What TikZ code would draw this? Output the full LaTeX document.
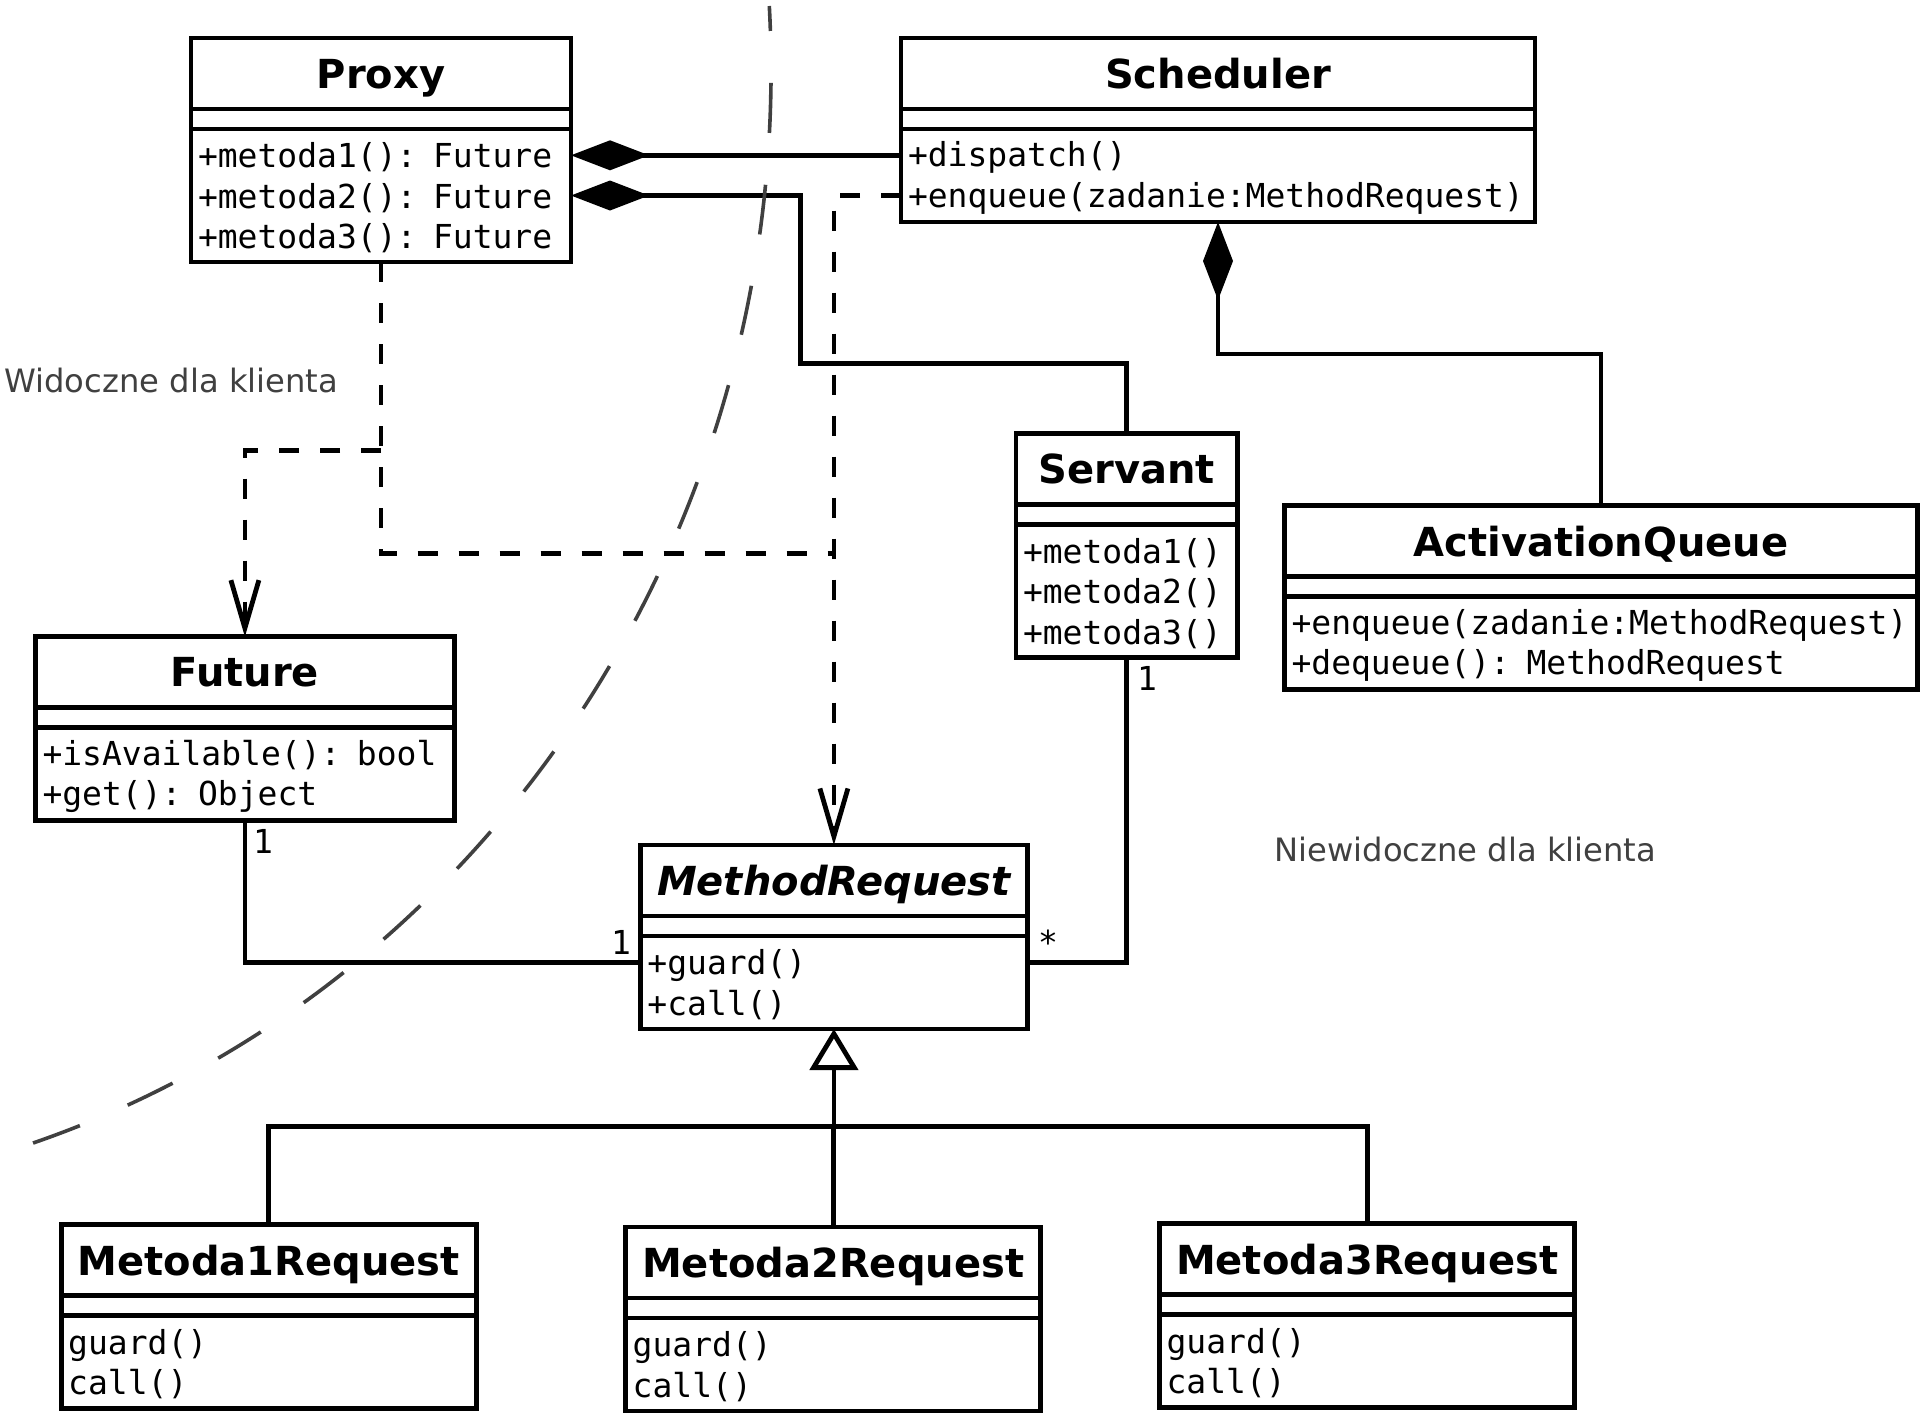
\documentclass[tikz,border=0pt]{standalone}
\usepackage{fontspec}
\setmainfont{DejaVu Sans}
\setmonofont{DejaVu Sans Mono}
\usetikzlibrary{arrows.meta,calc}
\definecolor{hintgray}{HTML}{404040}

\begin{document}
\begin{tikzpicture}[x=0.5pt,y=-0.5pt,line width=2.4pt,
  clsbox/.style={draw,anchor=north west,inner xsep=3.5pt,inner ysep=0pt,outer sep=0pt},
  clshead/.style={clsbox,minimum height=35.5pt,text depth=0pt,font=\fontsize{20}{24}\selectfont\bfseries},
  clsattr/.style={clsbox,minimum height=10pt},
  clsops/.style={clsbox,align=left,text height=14.8pt,font=\fontsize{16.5}{20.2}\selectfont\ttfamily},
  multlabel/.style={inner sep=0pt,font=\fontsize{16.5}{20.2}\selectfont\ttfamily},
  hintlabel/.style={inner sep=0pt,anchor=west,text=hintgray,font=\fontsize{16.1}{19}\selectfont},
  compos/.style={-{Diamond[length=39pt,width=15pt]}},
  depend/.style={dash pattern=on 10pt off 10.5pt},
  dependarrow/.style={depend,-{Straight Barb[length=24pt,width=14pt]}},
  inherit/.style={-{Triangle[open,length=20.5pt,width=24pt]}},
  zoneline/.style={draw=hintgray,line width=1.8pt,dash pattern=on 25pt off 26pt,dash phase=12.5pt}]
\useasboundingbox (0,0) rectangle (1920,1415);

\node[clshead,minimum width=190pt] (proxy) at (191,38) {Proxy};
\node[clsattr,minimum width=190pt] (proxya) at (proxy.south west) {};
\node[clsops,text width=183pt,minimum height=66.5pt] (proxym) at (proxya.south west) {+metoda1(): Future\\+metoda2(): Future\\+metoda3(): Future};

\node[clshead,minimum width=317pt] (sched) at (901,38) {Scheduler};
\node[clsattr,minimum width=317pt] (scheda) at (sched.south west) {};
\node[clsops,text width=310pt,minimum height=46.5pt] (schedm) at (scheda.south west) {+dispatch()\\+enqueue(zadanie:MethodRequest)};

\node[clshead,minimum width=110.8pt] (serv) at (1016,433.5) {Servant};
\node[clsattr,minimum width=110.8pt] (serva) at (serv.south west) {};
\node[clsops,text width=103.8pt,minimum height=66.5pt] (servm) at (serva.south west) {+metoda1()\\+metoda2()\\+metoda3()};

\node[clshead,minimum width=316.5pt] (queue) at (1284.5,505.7) {ActivationQueue};
\node[clsattr,minimum width=316.5pt] (queuea) at (queue.south west) {};
\node[clsops,text width=309.5pt,minimum height=46.5pt] (queuem) at (queuea.south west) {+enqueue(zadanie:MethodRequest)\\+dequeue(): MethodRequest};

\node[clshead,minimum width=209.4pt] (fut) at (35.5,636.7) {Future};
\node[clsattr,minimum width=209.4pt] (futa) at (fut.south west) {};
\node[clsops,text width=202.4pt,minimum height=46.5pt] (futm) at (futa.south west) {+isAvailable(): bool\\+get(): Object};

\node[clshead,minimum width=193.5pt] (req) at (640.4,845) {\itshape MethodRequest};
\node[clsattr,minimum width=193.5pt] (reqa) at (req.south west) {};
\node[clsops,text width=186.5pt,minimum height=46.5pt] (reqm) at (reqa.south west) {+guard()\\+call()};

\node[clshead,minimum width=207.5pt] (req1) at (61.2,1224.5) {Metoda1Request};
\node[clsattr,minimum width=207.5pt] (req1a) at (req1.south west) {};
\node[clsops,text width=200.5pt,minimum height=46.5pt] (req1m) at (req1a.south west) {guard()\\call()};

\node[clshead,minimum width=207.5pt] (req2) at (625.7,1227) {Metoda2Request};
\node[clsattr,minimum width=207.5pt] (req2a) at (req2.south west) {};
\node[clsops,text width=200.5pt,minimum height=46.5pt] (req2m) at (req2a.south west) {guard()\\call()};

\node[clshead,minimum width=207.5pt] (req3) at (1159.6,1223.3) {Metoda3Request};
\node[clsattr,minimum width=207.5pt] (req3a) at (req3.south west) {};
\node[clsops,text width=200.5pt,minimum height=46.5pt] (req3m) at (req3a.south west) {guard()\\call()};

\node[hintlabel] (visible) at (2,380) {Widoczne dla klienta};
\node[hintlabel] (hidden) at (1272,849) {Niewidoczne dla klienta};

\node[multlabel] (futone) at (263,841) {1};
\node[multlabel] (reqone) at (621,942) {1};
\node[multlabel] (servone) at (1147,678) {1};
\node[multlabel] (reqmany) at (1048,942) {*};

\coordinate (split) at (381,450.6);
\coordinate (merge) at (833.9,553.5);
\coordinate (hub) at (833.9,1126.5);

\draw[compos] ($(schedm.west)+(0,-20.2)$) -- ($(proxym.east)+(0,-40.2)$);
\draw[compos] (serv.north) |- (800.8,363.7) |- (proxym.east);
\draw[compos] (queue.north) |- ($(schedm.south)+(0,132)$) -- (schedm.south);
\draw[dependarrow] ($(schedm.west)+(0,20.2)$) -| (req.north);
\draw[depend] (proxym.south) |- (merge);
\draw[dependarrow] (split) -| (fut.north);
\draw (futm.south) |- ($(reqm.west)+(0,-20.2)$);
\draw (servm.south) |- ($(reqm.east)+(0,-20.2)$);
\draw (req1.north) |- (hub) -| (req3.north);
\draw (req2.north) -- (req2.north |- hub);
\draw[inherit] (hub) -- (reqm.south);

\draw[zoneline] (769.3,6) arc[start angle=-3.25,end angle=72.2,x radius=1071,y radius=1129];
\end{tikzpicture}
\end{document}
